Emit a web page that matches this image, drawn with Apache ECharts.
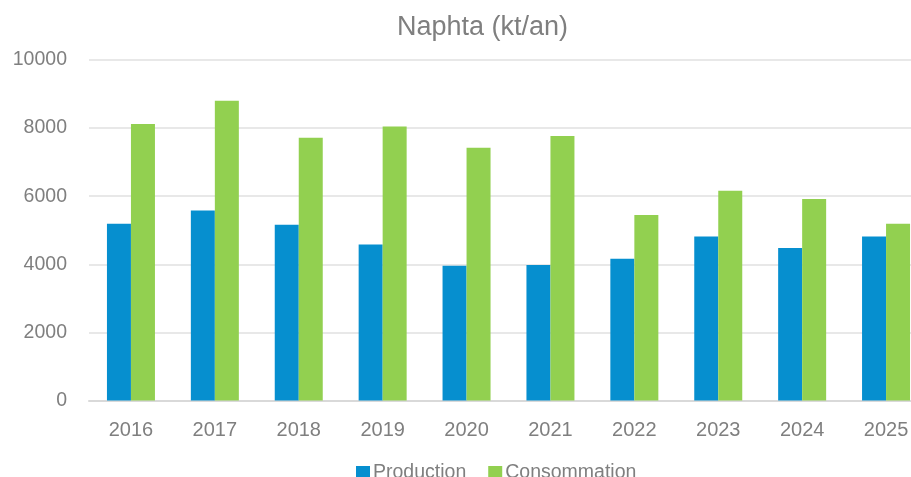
<!DOCTYPE html>
<html>
<head>
<meta charset="utf-8">
<script src="https://cdn.jsdelivr.net/npm/echarts@6/dist/echarts.min.js"></script>
<style>
  html, body { margin: 0; padding: 0; background: #fff; overflow: hidden; }
  /* plot area runs past the right edge in the original, so the canvas is a bit wider than the window */
  #chart { width: 928px; height: 477px; }
</style>
</head>
<body>
<div id="chart"></div>
<script>
// Naphta production vs consumption, kt per year
const years = ['2016', '2017', '2018', '2019', '2020', '2021', '2022', '2023', '2024', '2025'];
const production = [5190, 5580, 5160, 4580, 3960, 3980, 4160, 4820, 4480, 4820];
const consommation = [8120, 8800, 7720, 8050, 7420, 7770, 5450, 6160, 5920, 5190];

const GRAY = '#7f7f7f';
const FONT = '"Liberation Sans", Arial, sans-serif';

const chart = echarts.init(document.getElementById('chart'), null, { renderer: 'canvas' });

chart.setOption({
  backgroundColor: '#fff',
  animation: false,
  textStyle: { fontFamily: FONT, color: GRAY },
  title: {
    text: 'Naphta (kt/an)',
    left: 392,
    top: 9,
    textStyle: { fontFamily: FONT, fontSize: 27, fontWeight: 'normal', color: GRAY },
  },
  legend: {
    data: ['Production', 'Consommation'],
    left: 351,
    top: 458,
    itemWidth: 14,
    itemHeight: 14,
    itemGap: 22,
    icon: 'rect',
    textStyle: { fontFamily: FONT, fontSize: 19.5, color: GRAY, padding: [0, 0, 0, -2] },
  },
  grid: { left: 89, right: 0, top: 60, height: 340.5, containLabel: false },
  xAxis: {
    type: 'category',
    data: years,
    axisLine: { lineStyle: { color: '#d9d9d9', width: 2 } },
    axisTick: { show: false },
    axisLabel: { color: GRAY, fontSize: 20, margin: 20, fontFamily: FONT },
  },
  yAxis: {
    type: 'value',
    min: 0,
    max: 10000,
    interval: 2000,
    axisLine: { show: false },
    axisTick: { show: false },
    axisLabel: { color: GRAY, fontSize: 19.5, margin: 22, fontFamily: FONT, formatter: (v) => String(v) },
    splitLine: { lineStyle: { color: '#e0e0e0', width: 1.5 } },
  },
  series: [
    {
      name: 'Production', type: 'bar', data: production,
      barWidth: 24, barGap: '0%',
      itemStyle: { color: '#068fcf' },
    },
    {
      name: 'Consommation', type: 'bar', data: consommation,
      barWidth: 24,
      itemStyle: { color: '#92d050' },
    },
  ],
});
</script>
</body>
</html>
